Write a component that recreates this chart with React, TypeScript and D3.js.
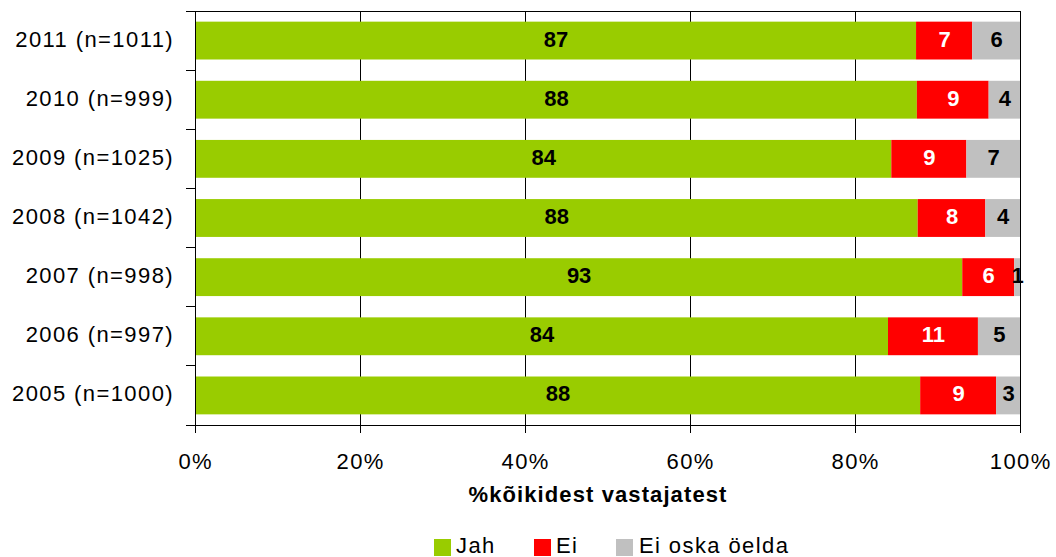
import React from "react";
import * as d3 from "d3";

const categories = [
  "2011 (n=1011)",
  "2010 (n=999)",
  "2009 (n=1025)",
  "2008 (n=1042)",
  "2007 (n=998)",
  "2006 (n=997)",
  "2005 (n=1000)",
];
// shares; labels show the rounded values
const jah = [87.4, 87.5, 84.4, 87.6, 93.0, 84.0, 87.9];
const ei = [6.8, 8.7, 9.1, 8.2, 6.3, 10.9, 9.2];
const eiOska = [5.8, 3.8, 6.5, 4.2, 0.7, 5.1, 2.9];
const seriesNames = ["Jah", "Ei", "Ei oska öelda"];
const seriesColors = ["#99CC00", "#FF0000", "#C0C0C0"];
const labelColors = ["#000000", "#FFFFFF", "#000000"];
const xTicks = [0, 0.2, 0.4, 0.6, 0.8, 1];
const xTitle = "%kõikidest vastajatest";

const W = 1056;
const H = 557;
const left = 195;
const right = 1020;
const top = 11;
const bottom = 425;
const font = "'Liberation Sans', Arial, sans-serif";

export default function App() {
  const x = d3.scaleLinear().domain([0, 1]).range([left, right]);
  const y = d3
    .scaleBand<string>()
    .domain(categories)
    .range([top, bottom])
    .paddingInner(0.36)
    .paddingOuter(0.18);

  const rows = categories.map((c, i) => ({
    cat: c,
    vals: [jah[i], ei[i], eiOska[i]],
  }));

  const bandEdges = d3
    .range(categories.length + 1)
    .map((i) => top + i * ((bottom - top) / categories.length));

  const legendItems = [
    { sx: 434, tx: 456 },
    { sx: 534, tx: 556 },
    { sx: 616, tx: 639 },
  ];

  return (
    <svg
      width={W}
      height={H}
      style={{ position: "absolute", left: 0, top: 0, background: "#fff" }}
      fontFamily={font}
    >
      {xTicks.map((t) => (
        <line key={"g" + t} x1={x(t)} x2={x(t)} y1={top} y2={bottom} stroke="#000" strokeWidth={1} shapeRendering="crispEdges" />
      ))}
      <line x1={left} x2={right} y1={top} y2={top} stroke="#000" strokeWidth={1} shapeRendering="crispEdges" />
      {rows.map((r) => {
        const total = d3.sum(r.vals);
        let acc = 0;
        return (
          <g key={r.cat}>
            {r.vals.map((v, k) => {
              const x0 = x(acc / total);
              acc += v;
              const x1 = x(acc / total);
              return (
                <g key={k}>
                  <rect x={x0} y={y(r.cat)} width={x1 - x0} height={y.bandwidth()} fill={seriesColors[k]} />
                  <text
                    x={(x0 + x1) / 2 + 0.5}
                    y={(y(r.cat) as number) + y.bandwidth() / 2}
                    dy="0.27em"
                    textAnchor="middle"
                    fontSize={22}
                    fontWeight="bold"
                    fill={labelColors[k]}
                  >
                    {Math.round(v)}
                  </text>
                </g>
              );
            })}
          </g>
        );
      })}
      <line x1={left} x2={left} y1={top} y2={bottom + 8} stroke="#000" strokeWidth={1} shapeRendering="crispEdges" />
      {bandEdges.map((e, i) => (
        <line key={"yt" + i} x1={left - 9} x2={left} y1={e} y2={e} stroke="#000" strokeWidth={1} shapeRendering="crispEdges" />
      ))}
      {categories.map((c) => (
        <text
          key={"yl" + c}
          x={174}
          y={(y(c) as number) + y.bandwidth() / 2}
          dy="0.27em"
          textAnchor="end"
          fontSize={22}
          letterSpacing={1.4}
          fill="#000"
        >
          {c}
        </text>
      ))}
      <line x1={left - 9} x2={right} y1={bottom} y2={bottom} stroke="#000" strokeWidth={1} shapeRendering="crispEdges" />
      {xTicks.map((t) => (
        <g key={"xt" + t}>
          <line x1={x(t)} x2={x(t)} y1={bottom} y2={bottom + 8} stroke="#000" strokeWidth={1} shapeRendering="crispEdges" />
          <text x={x(t) + 0.7} y={461} dy="0.36em" textAnchor="middle" fontSize={22} letterSpacing={1.4} fill="#000">
            {d3.format(".0%")(t)}
          </text>
        </g>
      ))}
      <text x={598} y={494} dy="0.36em" textAnchor="middle" fontSize={22} fontWeight="bold" letterSpacing={1.1} fill="#000">
        {xTitle}
      </text>
      {seriesNames.map((n, k) => (
        <g key={"lg" + n}>
          <rect x={legendItems[k].sx} y={539} width={17} height={17} fill={seriesColors[k]} />
          <text x={legendItems[k].tx} y={545} dy="0.36em" fontSize={22} letterSpacing={1.4} fill="#000">
            {n}
          </text>
        </g>
      ))}
    </svg>
  );
}
